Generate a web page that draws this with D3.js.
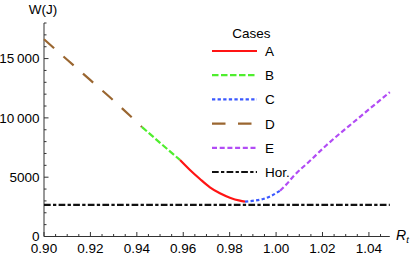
<!DOCTYPE html>
<html>
<head>
<meta charset="utf-8">
<script src="https://cdn.jsdelivr.net/npm/d3@7"></script>
<style>
  body { margin: 0; background: #fff; }
  text { font-family: "Liberation Sans", Arial, sans-serif; font-size: 13.5px; fill: #000; }
</style>
</head>
<body>
<svg id="chart" width="415" height="257"></svg>
<script>
// values (x = Rt, y = W in J)
var caseD = [[0.900, 16630], [0.910, 14900], [0.920, 13180], [0.930, 11460], [0.9422, 9233]];
var caseB = [[0.9422, 9233], [0.950, 7900], [0.9586, 6450]];
var caseA = [[0.9586, 6450], [0.9629, 5607], [0.9672, 4848], [0.9715, 4148], [0.9758, 3642],
             [0.9801, 3272], [0.9844, 3019], [0.9866, 2934]];
var caseC = [[0.9866, 2934], [0.9905, 3020], [0.9944, 3162], [0.998, 3440], [1.0017, 3862]];
var caseE = [[1.0017, 3862], [1.0045, 4400], [1.0073, 5042], [1.0145, 6360], [1.0218, 7715],
             [1.035, 9900], [1.049, 12170]];
var horValue = 2660;
var xTicks = [0.90, 0.92, 0.94, 0.96, 0.98, 1.00, 1.02, 1.04];
var yTicks = [0, 5000, 10000, 15000];
var caseNames = ["A", "B", "C", "D", "E", "Hor."];

var svg = d3.select("#chart");
var x = d3.scaleLinear().domain([0.9, 1.049]).range([44, 389.8]);
var y = d3.scaleLinear().domain([0, 18000]).range([236.5, 23]);

var styles = {
    "A": { color: "#ff1414", dash: null },
    "B": { color: "#4fee2e", dash: "6.5,2.5" },
    "C": { color: "#3a58ff", dash: "3.3,2.3" },
    "D": { color: "#9a6630", dash: "13.5,12.5" },
    "E": { color: "#b24cf5", dash: "5,2.7" },
    "Hor.": { color: "#111", dash: "6.7,2.3,3.3,2.3" }
};

// axes, ticks drawn inward like Mathematica
var axisColor = "#333";
var xMinor = d3.range(0.905, 1.049, 0.005).filter(function (v) { return Math.abs(v * 50 - Math.round(v * 50)) > 1e-6; });
var yMinor = d3.range(1000, 18001, 1000).filter(function (v) { return v % 5000 !== 0; });

var axes = svg.append("g").attr("stroke", axisColor).attr("stroke-width", 1);
axes.append("line").attr("x1", x(0.9)).attr("x2", x(1.049)).attr("y1", y(0)).attr("y2", y(0));
axes.append("line").attr("x1", x(0.9)).attr("x2", x(0.9)).attr("y1", y(0)).attr("y2", y(18000));

axes.selectAll("line.xmaj").data(xTicks).enter().append("line")
    .attr("class", "xmaj")
    .attr("x1", function (d) { return x(d); })
    .attr("x2", function (d) { return x(d); })
    .attr("y1", y(0)).attr("y2", y(0) - 4.5);
axes.selectAll("line.xmin").data(xMinor).enter().append("line")
    .attr("class", "xmin")
    .attr("x1", function (d) { return x(d); })
    .attr("x2", function (d) { return x(d); })
    .attr("y1", y(0)).attr("y2", y(0) - 2.5);
axes.selectAll("line.ymaj").data(yTicks).enter().append("line")
    .attr("class", "ymaj")
    .attr("x1", x(0.9)).attr("x2", x(0.9) + 4.5)
    .attr("y1", function (d) { return y(d); })
    .attr("y2", function (d) { return y(d); });
axes.selectAll("line.ymin").data(yMinor).enter().append("line")
    .attr("class", "ymin")
    .attr("x1", x(0.9)).attr("x2", x(0.9) + 2.5)
    .attr("y1", function (d) { return y(d); })
    .attr("y2", function (d) { return y(d); });

svg.selectAll("text.xlab").data(xTicks).enter().append("text")
    .attr("class", "xlab")
    .attr("x", function (d) { return x(d); })
    .attr("y", 252.7)
    .attr("text-anchor", "middle")
    .text(function (d) { return d3.format(".2f")(d); });

svg.selectAll("text.ylab").data(yTicks).enter().append("text")
    .attr("class", "ylab")
    .attr("x", 39.5)
    .attr("y", function (d) { return y(d) + 4.8; })
    .attr("text-anchor", "end")
    .text(function (d) {
        return d >= 10000 ? d3.format("d")(Math.floor(d / 1000)) + "\u2009" + "000" : String(d);
    });

svg.append("text").attr("x", 43).attr("y", 13.5).attr("text-anchor", "middle").text("W(J)");
var rt = svg.append("text").attr("x", 396).attr("y", 240).style("font-style", "italic").style("font-size", "14px");
rt.append("tspan").text("R");
rt.append("tspan").attr("dy", 3).style("font-size", "9.5px").text("t");

// curves
var line = d3.line()
    .x(function (d) { return x(d[0]); })
    .y(function (d) { return y(d[1]); })
    .curve(d3.curveMonotoneX);

var series = [
    { name: "Hor.", values: [[0.9, horValue], [1.049, horValue]] },
    { name: "D", values: caseD },
    { name: "B", values: caseB },
    { name: "A", values: caseA },
    { name: "C", values: caseC },
    { name: "E", values: caseE }
];

svg.append("g").selectAll("path").data(series).enter().append("path")
    .attr("d", function (d) { return line(d.values); })
    .attr("fill", "none")
    .attr("stroke", function (d) { return styles[d.name].color; })
    .attr("stroke-width", 2.2)
    .attr("stroke-dasharray", function (d) { return styles[d.name].dash; });

// legend
var legend = svg.append("g");
legend.append("text").attr("x", 251.5).attr("y", 38).attr("text-anchor", "middle").text("Cases");
var items = legend.selectAll("g.item").data(caseNames).enter().append("g")
    .attr("class", "item")
    .attr("transform", function (d, i) { return "translate(0," + (51 + i * 24.2) + ")"; });
items.append("line")
    .attr("x1", 212).attr("x2", 257).attr("y1", 0).attr("y2", 0)
    .attr("stroke", function (d) { return styles[d].color; })
    .attr("stroke-width", 2.2)
    .attr("stroke-dasharray", function (d) { return styles[d].dash; });
items.append("text").attr("x", 265).attr("y", 5).text(function (d) { return d; });
</script>
</body>
</html>
